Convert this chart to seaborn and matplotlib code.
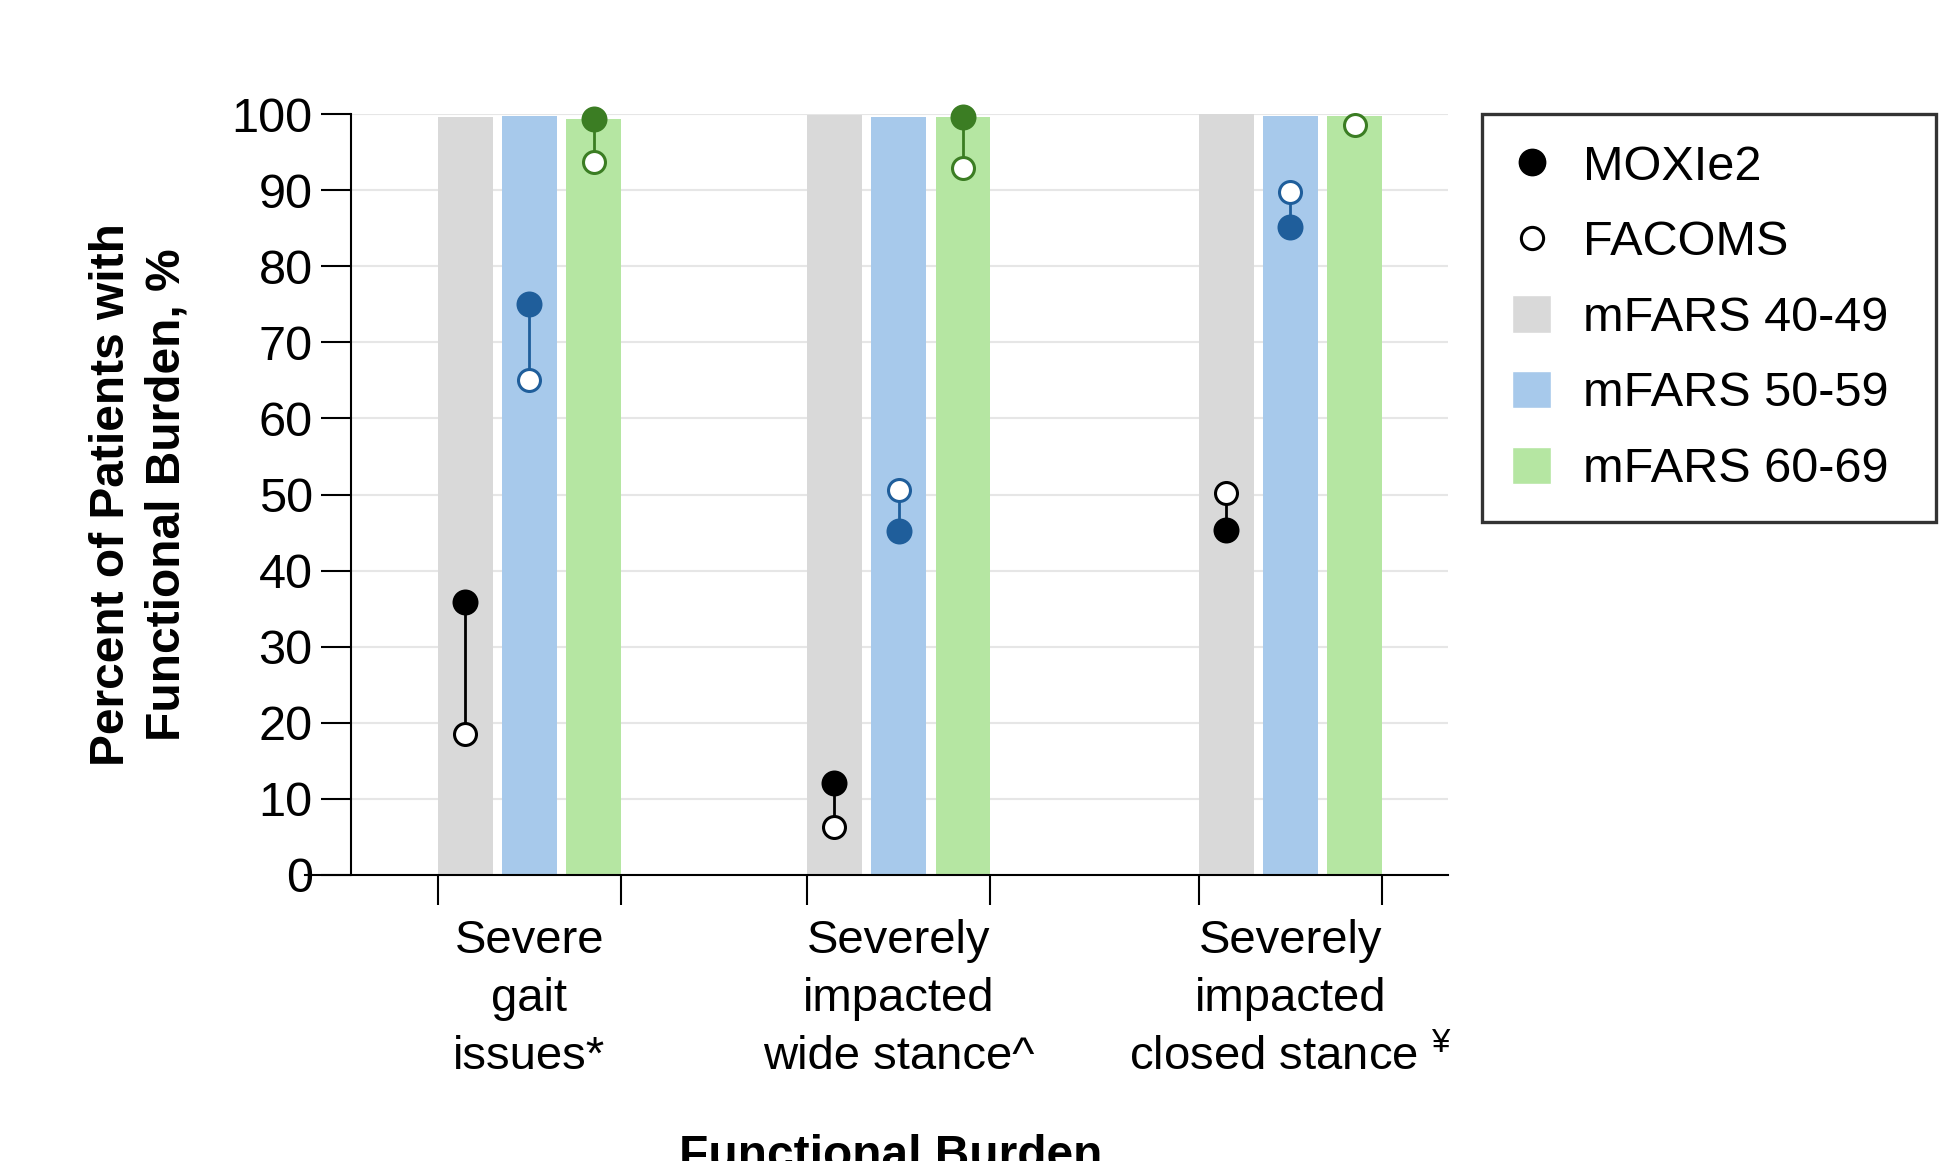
import numpy as np
import pandas as pd
import seaborn as sns
import matplotlib.pyplot as plt
from matplotlib.lines import Line2D
from matplotlib.patches import Patch

# categories / series
burden = ["Severe\ngait\nissues*",
          "Severely\nimpacted\nwide stance^",
          "Severely\nimpacted\nclosed stance $^{¥}$"]
bands = ["mFARS 40-49", "mFARS 50-59", "mFARS 60-69"]

# bar heights (% patients), one value per burden category
bar_40_49 = [99.6, 99.9, 100.0]
bar_50_59 = [99.8, 99.6, 99.7]
bar_60_69 = [99.3, 99.6, 99.7]

# MOXIe2 (filled) and FACOMS (open) points
moxie_40_49 = [35.9, 12.1, 45.4]
moxie_50_59 = [75.0, 45.2, 85.2]
moxie_60_69 = [99.3, 99.6, np.nan]
facoms_40_49 = [18.5, 6.3, 50.2]
facoms_50_59 = [65.0, 50.6, 89.7]
facoms_60_69 = [93.7, 92.9, 98.5]

# layout: group centres on the x axis (slightly uneven, as in the original)
group_pos = [0.0, 0.97, 2.0]

bar_colors = ["#d9d9d9", "#a7c9eb", "#b5e6a2"]
dot_colors = ["#000000", "#1f5e9b", "#3b7d23"]

bars_df = pd.DataFrame({
    "pos": group_pos * 3,
    "band": [b for b in bands for _ in burden],
    "value": bar_40_49 + bar_50_59 + bar_60_69,
})
moxie = [moxie_40_49, moxie_50_59, moxie_60_69]
facoms = [facoms_40_49, facoms_50_59, facoms_60_69]

sns.set_style("white")
plt.rcParams["font.family"] = ["Liberation Sans", "DejaVu Sans"]
plt.rcParams["mathtext.fontset"] = "custom"
plt.rcParams["mathtext.rm"] = "Liberation Sans"
plt.rcParams["mathtext.it"] = "Liberation Sans"
for k in ["text.color", "axes.labelcolor", "xtick.color", "ytick.color"]:
    plt.rcParams[k] = "black"

fig = plt.figure(figsize=(19.6, 11.61), dpi=100)
ax = fig.add_axes([351 / 1960, 1 - 875 / 1161, 1097 / 1960, 761 / 1161])

native_w = min(np.diff(group_pos))
sns.barplot(data=bars_df, x="pos", y="value", hue="band", native_scale=True,
            hue_order=bands, palette=bar_colors, width=0.508 / native_w,
            gap=0.147, saturation=1, errorbar=None, linewidth=0,
            legend=False, ax=ax)

# points sit on the centre of each bar
edges = []
for i, cont in enumerate(ax.containers):
    xs = [b.get_x() + b.get_width() / 2 for b in cont]
    c = dot_colors[i]
    for x, m, f in zip(xs, moxie[i], facoms[i]):
        if not (np.isnan(m) or np.isnan(f)):
            ax.plot([x, x], [m, f], color=c, lw=2, zorder=3)
    ax.scatter(xs, facoms[i], s=250, facecolor="white", edgecolor=c,
               linewidth=2.2, zorder=4, clip_on=False)
    ax.scatter(xs, moxie[i], s=350, color=c, linewidth=0, zorder=5,
               clip_on=False)
for j in range(len(burden)):
    left = ax.containers[0][j]
    right = ax.containers[-1][j]
    edges += [left.get_x(), right.get_x() + right.get_width()]

ax.set_xlim(-0.469, 2.414)
ax.set_ylim(0, 100)
ax.set_yticks(range(0, 101, 10))
ax.set_xticks(group_pos, burden)
ax.set_xticks(edges, minor=True)
ax.set_xlabel("")
ax.set_ylabel("")
ax.tick_params(axis="y", length=21.6, width=1.5, pad=6, labelsize=35,
               left=True, color="black")
ax.tick_params(axis="x", which="major", length=0, pad=32, labelsize=34)
ax.tick_params(axis="x", which="minor", length=21.6, width=1.5,
               bottom=True, color="black", labelbottom=False)
for lbl in ax.get_xticklabels():
    lbl.set_linespacing(1.41)

ax.yaxis.grid(True, color="#e6e6e6", lw=1.5)
ax.xaxis.grid(False)
ax.set_axisbelow(True)

for s in ["top", "right"]:
    ax.spines[s].set_visible(False)
for s in ["left", "bottom"]:
    ax.spines[s].set_linewidth(1.5)
    ax.spines[s].set_color("black")
ax.spines["bottom"].set_bounds(-0.469 - 46 / 380.5, 2.414)

ax.set_ylabel("Percent of Patients with\nFunctional Burden, %",
              fontsize=34.5, fontweight="bold", linespacing=1.3)
ax.yaxis.set_label_coords(-0.147, 0.5)
ax.set_xlabel("Functional Burden", fontsize=34.5, fontweight="bold")
ax.xaxis.set_label_coords(0.492, -0.34)

handles = [
    Line2D([], [], marker="o", ls="none", color="black", markersize=19),
    Line2D([], [], marker="o", ls="none", markerfacecolor="white",
           markeredgecolor="black", markersize=16, markeredgewidth=2.2),
] + [Patch(facecolor=c) for c in bar_colors]
labels = ["MOXIe2", "FACOMS"] + bands
leg = fig.legend(handles, labels, loc="upper left",
                 bbox_to_anchor=(1482 / 1960, 1 - 114 / 1161, 454 / 1960, 0),
                 mode="expand", frameon=True, fancybox=False,
                 edgecolor="black", fontsize=35, handlelength=0.8,
                 handleheight=0.8, handletextpad=0.66, labelspacing=0.62,
                 borderpad=0.62, borderaxespad=0)
leg.get_frame().set_linewidth(2.4)

fig.savefig("out.png", dpi=100)
